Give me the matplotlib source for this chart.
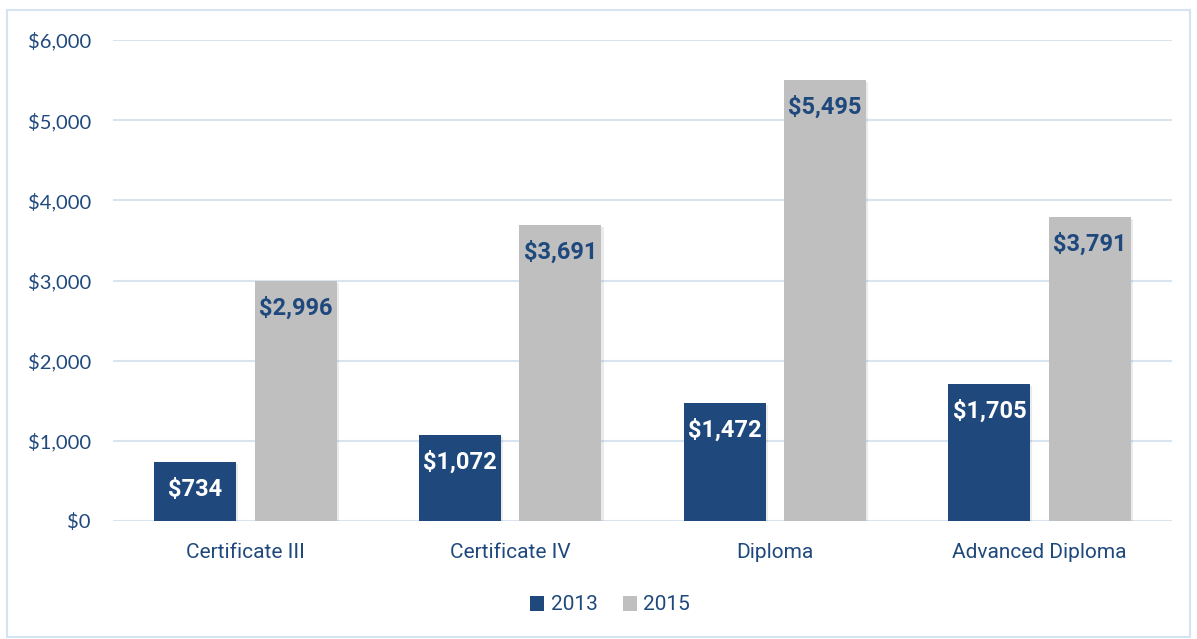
import numpy as np
import matplotlib.pyplot as plt
from matplotlib import font_manager
from matplotlib.patches import Rectangle

categories = ["Certificate III", "Certificate IV", "Diploma", "Advanced Diploma"]
series_names = ["2013", "2015"]
values_2013 = [734, 1072, 1472, 1705]
values_2015 = [2996, 3691, 5495, 3791]
yticks = [0, 1000, 2000, 3000, 4000, 5000, 6000]

DARK = "#1F497D"
GREY = "#BFBFBF"
GRID = "#D9E4F1"

installed = {f.name for f in font_manager.fontManager.ttflist}
narrow = "Liberation Sans Narrow" if "Liberation Sans Narrow" in installed else "Roboto"
plt.rcParams["font.family"] = ["Lato", "DejaVu Sans"]

fig = plt.figure(figsize=(11.97, 6.39), dpi=100)
ax = fig.add_axes([113 / 1197, 1 - 521 / 639, (1172 - 113) / 1197, (521 - 40) / 639])

# outer frame
fig.patches.append(Rectangle((7 / 1197, 2 / 639), 1183 / 1197, 627 / 639,
                             transform=fig.transFigure, fill=False,
                             edgecolor="#D6E3F3", linewidth=1.5))

x = np.arange(len(categories))
w = 0.31
off = 0.19
for vals, sh in [(values_2013, -off), (values_2015, off)]:
    # soft shadow
    ax.bar(x + sh + 0.008, vals, w, bottom=-25, color="#000000", alpha=0.08,
           zorder=2, linewidth=0)
b1 = ax.bar(x - off, values_2013, w, color=DARK, zorder=3, label=series_names[0])
b2 = ax.bar(x + off, values_2015, w, color=GREY, zorder=3, label=series_names[1])

for bars, vals, tc in [(b1, values_2013, "white"), (b2, values_2015, DARK)]:
    for r, v in zip(bars, vals):
        ax.text(r.get_x() + r.get_width() / 2, v - 335, f"${v:,}",
                ha="center", va="center", color=tc, fontsize=17,
                fontweight="bold", family=[narrow, "DejaVu Sans"], zorder=4)

ax.set_ylim(0, 6000)
ax.set_xlim(-0.5, len(categories) - 0.5)
ax.set_yticks(yticks)
ax.set_yticklabels([f"${t:,}" for t in yticks], fontsize=14.5, color=DARK)
ax.set_xticks(x)
ax.set_xticklabels(categories, fontsize=15, color=DARK,
                   family=[narrow, "DejaVu Sans"])
ax.tick_params(axis="y", length=0, pad=16)
ax.tick_params(axis="x", length=0, pad=16)
ax.grid(axis="y", color=GRID, linewidth=1.5, zorder=0)
ax.set_axisbelow(True)
for s in ax.spines.values():
    s.set_visible(False)

leg = fig.legend(handles=[b1, b2], loc="center", bbox_to_anchor=(610 / 1197, 1 - 605 / 639),
                 ncol=2, frameon=False, handlelength=0.7,
                 handleheight=0.7, handletextpad=0.3, columnspacing=1.2,
                 prop={"family": [narrow, "DejaVu Sans"], "size": 15})
for t in leg.get_texts():
    t.set_color(DARK)

fig.savefig("out.png", dpi=100)
